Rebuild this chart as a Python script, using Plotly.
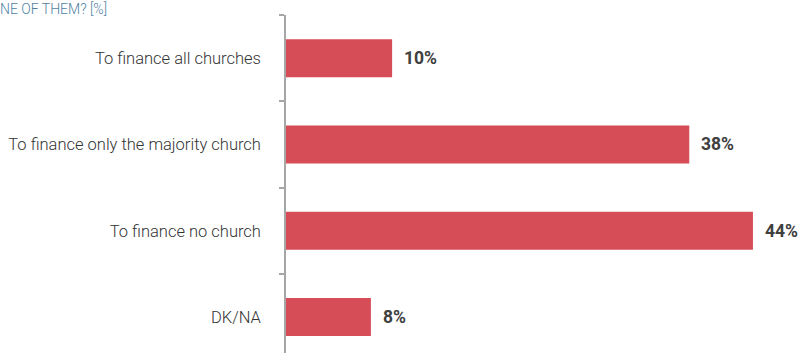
import plotly.graph_objects as go

categories = [
    "To finance all churches",
    "To finance only the majority church",
    "To finance no church",
    "DK/NA",
]
values = [10, 38, 44, 8]
value_labels = ["10%", "38%", "44%", "8%"]
title_tail = "NE OF THEM? [%]"

bar_color = "#d64d58"
axis_color = "#a6a6a6"

fig = go.Figure(
    go.Bar(
        x=values,
        y=categories,
        orientation="h",
        marker=dict(color=bar_color, line=dict(width=0)),
        width=0.44,
        hoverinfo="skip",
    )
)

for cat, val, lab in zip(categories, values, value_labels):
    fig.add_annotation(
        x=val, y=cat, xref="x", yref="y",
        text=f"<b>{lab}</b>", showarrow=False,
        xanchor="left", xshift=10,
        font=dict(family="Roboto", size=17.5, color="#404040"),
    )

# heading line at the top edge
fig.add_annotation(
    x=0, y=1, xref="paper", yref="paper",
    text=title_tail, showarrow=False,
    xanchor="left", yanchor="top", xshift=-287, yshift=15,
    borderpad=0,
    font=dict(family="Roboto", size=14, color="#4f7fa3", weight=300),
)

fig.update_layout(
    width=806, height=353,
    margin=dict(l=286, r=0, t=15, b=0),
    paper_bgcolor="white", plot_bgcolor="white",
    showlegend=False,
    bargap=0.56,
    xaxis=dict(
        range=[0, 49.0], visible=False, fixedrange=True,
    ),
    yaxis=dict(
        type="category",
        categoryorder="array", categoryarray=categories,
        range=[3.417, -0.5],
        showline=True, linecolor=axis_color, linewidth=1.5,
        ticks="outside", tickson="boundaries", ticklen=5,
        tickcolor=axis_color, tickwidth=1.5,
        showgrid=False, zeroline=False,
        ticklabelstandoff=20,
        tickfont=dict(family="Roboto", size=16.5, color="#333333", weight=300),
    ),
)

fig.write_html("out.html")
